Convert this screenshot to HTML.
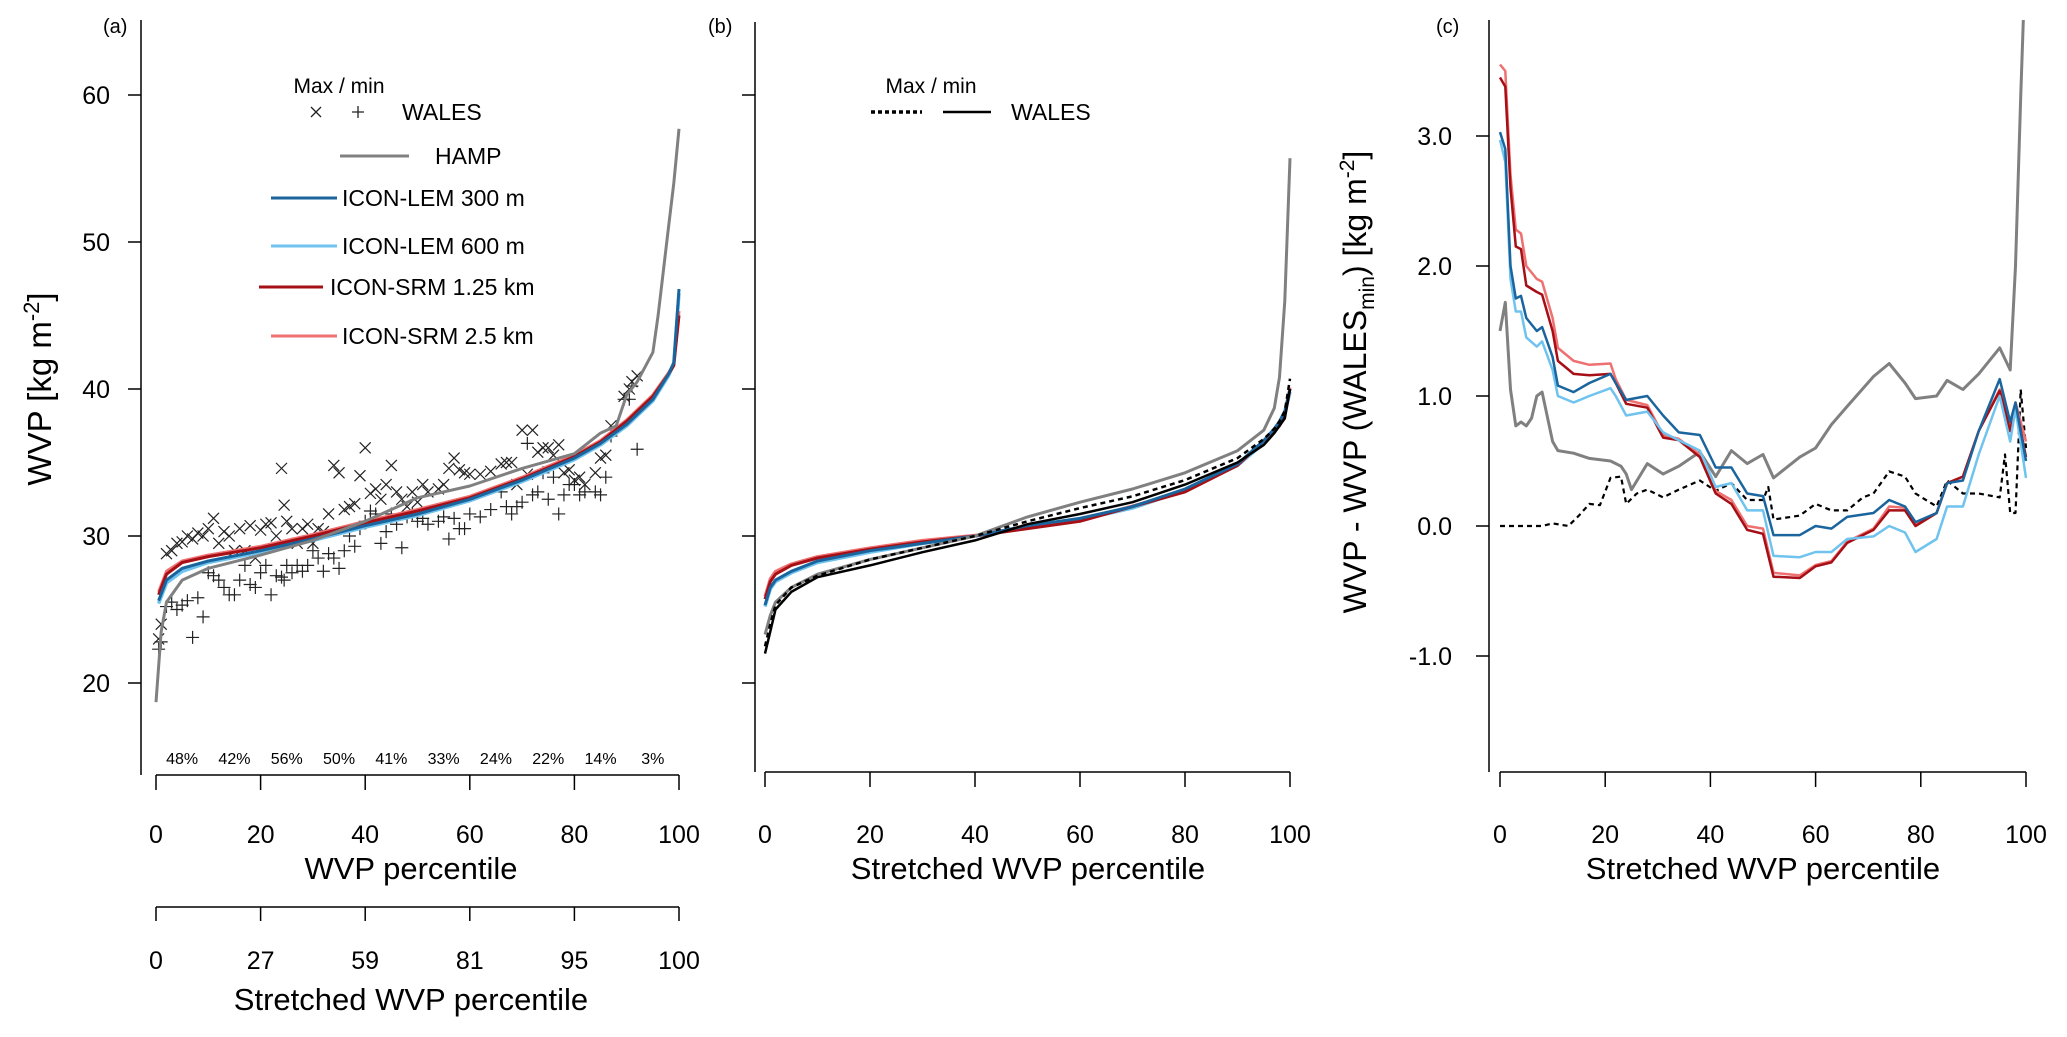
<!DOCTYPE html>
<html><head><meta charset="utf-8">
<style>
html,body{margin:0;padding:0;background:#fff;}
svg{display:block;font-family:"Liberation Sans",Arial,sans-serif;}
</style></head>
<body>
<svg id="chart" width="2067" height="1037" viewBox="0 0 2067 1037">
<defs>
<clipPath id="clipA"><rect x="141" y="15" width="560" height="760"/></clipPath>
<clipPath id="clipB"><rect x="754" y="15" width="560" height="760"/></clipPath>
<clipPath id="clipC"><rect x="1489" y="20" width="560" height="752"/></clipPath>
</defs>
<g id="root"></g>
</svg>
<script>
// ---------- Panel (a) data ----------
const A_P = [0.5,2,5,10,20,30,40,50,60,70,80,85,90,95,98,99,100];
const A_LEM300 = [25.6,27,27.8,28.3,29.0,29.8,30.7,31.5,32.5,33.8,35.3,36.3,37.6,39.3,41,41.8,46.8];
const A_LEM600 = [25.4,26.8,27.6,28.2,28.9,29.7,30.6,31.4,32.4,33.7,35.2,36.2,37.5,39.2,40.9,41.7,46.5];
const A_SRM125 = [26,27.4,28.2,28.6,29.2,30,30.9,31.7,32.6,33.9,35.4,36.4,37.8,39.5,41,41.6,45];
const A_SRM25 = [26.2,27.6,28.3,28.7,29.3,30.1,31.0,31.8,32.7,34.0,35.5,36.5,37.9,39.6,41.1,41.7,45.3];
const A_HAMP_P = [0,1,2,5,10,20,30,40,50,60,70,80,85,88,90,92,95,96,97,98,99,100];
const A_HAMP = [18.7,23.5,25.5,27,27.8,28.7,29.7,31,32.6,33.4,34.6,35.6,37,37.5,39.6,40.5,42.5,45,48,51,54,57.7];
const W_P = [0.5,1,2,3,4,5,6,7,8,9,10,11,12,13,14,15,16,17,18,19,20,21,22,23,24,24.5,25,26,27,28,29,30,31,32,33,34,35,36,37,38,39,40,41,42,43,44,45,46,47,48,49,50,51,52,54,55,56,57,58,59,60,62,64,66,67,68,69,70,71,72,73,74,75,76,77,78,79,80,81,82,84,85,86,87,89.5,90.5,91,92];
const W_MAX = [23,24,28.8,29,29.5,29.6,30,29.8,30.2,30,30.5,31.2,29.5,30.3,30,29,30.5,29,30.7,28.5,30.4,30.8,30.9,30,34.6,32.1,31,30.5,29.5,30.5,30.8,29.5,30.5,30.3,31.5,34.8,34.3,31.8,32,32.2,34.1,36,32.9,33.2,32.5,33.5,34.8,33,32.5,32,33,32.3,33.5,33,33.2,33.5,34.6,35.3,34.5,34.3,34.2,34.2,34.4,34.9,35,35,33.5,37.2,34.2,37.2,35.7,36,36,35.5,36.2,34.3,34.5,33.8,34,33.5,34.3,35.3,35.5,37.5,39.5,40,40.5,40.9];
const W_MIN = [22.3,22.8,25.2,25.5,25,25.3,25.6,23.1,25.8,24.5,27.5,27.3,27,26.5,26,26,27,28,26.7,26.5,27.5,28,26,27.3,27.2,27,28,27.5,28,27.6,28,29,28.5,27.6,28.8,28.5,27.8,29,30,29.3,30.5,31,31.7,31.5,29.5,30.3,31.5,30.8,29.2,31.3,31.5,31,31.2,30.8,31,31.3,29.8,31.2,30.5,30.5,31.5,31.3,31.8,33,32,31.5,32,32.3,36.3,32.8,33,34.3,32.5,34,31.5,32.8,33.5,33.5,32.8,33,33,32.8,34,36.8,39.3,39.3,40.2,35.9];
const A_XTICKS = [0,20,40,60,80,100];
const A_YTICKS = [20,30,40,50,60];
const A_PCT = ["48%","42%","56%","50%","41%","33%","24%","22%","14%","3%"];
const A_STRETCH = ["0","27","59","81","95","100"];
// ---------- Panel (b) data ----------
const B_P = [0,1,2,5,10,20,30,40,50,60,70,80,90,95,97,98,99,100];
const B_HAMP = [23.3,24.6,25.5,26.5,27.4,28.4,29.2,30,31.3,32.3,33.2,34.3,35.8,37.2,38.7,40.8,46,55.7];
const B_WMIN = [22,23.5,25,26.2,27.2,28,28.9,29.7,30.8,31.5,32.3,33.5,35,36.2,37,37.5,38,40];
const B_WMAX = [22.5,24,25.3,26.5,27.3,28.4,29.2,30,31,31.9,32.7,33.8,35.3,36.6,37.3,37.8,38.5,40.7];
const B_LEM300 = [25.3,26.5,27,27.6,28.3,29,29.5,30,30.7,31.2,32,33.2,34.9,36.5,37.3,37.8,38.5,40];
const B_LEM600 = [25.2,26.4,26.9,27.5,28.2,28.9,29.5,30,30.6,31.1,31.9,33.1,34.8,36.3,37.1,37.6,38.3,39.8];
const B_SRM125 = [25.7,26.9,27.4,28,28.5,29.1,29.6,30,30.5,31,32,33,34.8,36.5,37.1,37.5,38.2,40];
const B_SRM25 = [25.9,27.1,27.6,28.1,28.6,29.2,29.7,30.05,30.55,31.05,32.05,33.05,34.85,36.5,37.1,37.5,38.2,40.1];
// ---------- Panel (c) data ----------
const C_P = [0,1,2,3,4,5,7,8,10,11,14,17,21,22,24,28,31,34,38,41,44,47,50,52,57,60,63,66,71,74,77,79,83,85,88,91,95,97,98,100];
const C_SRM125 = [3.45,3.38,2.6,2.15,2.13,1.85,1.8,1.78,1.5,1.27,1.17,1.16,1.17,1.1,0.94,0.91,0.68,0.66,0.53,0.25,0.17,-0.03,-0.06,-0.39,-0.4,-0.31,-0.28,-0.13,-0.03,0.12,0.12,0,0.1,0.33,0.38,0.73,1.04,0.73,0.94,0.53];
const C_SRM25 = [3.55,3.5,2.7,2.28,2.25,2.0,1.9,1.88,1.6,1.37,1.27,1.24,1.25,1.13,0.97,0.93,0.7,0.67,0.55,0.27,0.2,0.0,-0.02,-0.36,-0.38,-0.3,-0.27,-0.12,-0.02,0.15,0.14,0.02,0.1,0.33,0.38,0.73,1.05,0.75,0.95,0.65];
const C_LEM300 = [3.03,2.9,2.0,1.75,1.77,1.6,1.5,1.53,1.3,1.08,1.03,1.1,1.17,1.1,0.97,1.0,0.85,0.72,0.7,0.45,0.45,0.25,0.23,-0.07,-0.07,0.0,-0.02,0.07,0.1,0.2,0.15,0.03,0.1,0.33,0.35,0.73,1.13,0.8,0.95,0.5];
const C_LEM600 = [2.97,2.8,1.9,1.65,1.65,1.45,1.38,1.42,1.2,1.0,0.95,1.0,1.06,1.0,0.85,0.88,0.72,0.66,0.58,0.3,0.33,0.12,0.12,-0.23,-0.24,-0.2,-0.2,-0.1,-0.08,0.0,-0.05,-0.2,-0.1,0.15,0.15,0.55,1.0,0.65,0.9,0.37];
const C_HAMP_P = [0,1,2,3,4,5,6,7,8,10,11,14,17,21,23,24,25,28,31,34,38,41,44,47,50,52,57,60,63,66,71,74,77,79,83,85,88,91,95,97,98,99,100];
const C_HAMP = [1.5,1.72,1.05,0.77,0.8,0.77,0.83,1.0,1.03,0.65,0.58,0.56,0.52,0.5,0.46,0.4,0.28,0.48,0.4,0.46,0.57,0.38,0.58,0.48,0.55,0.37,0.53,0.6,0.78,0.92,1.15,1.25,1.1,0.98,1.0,1.12,1.05,1.17,1.37,1.2,2.0,3.3,4.5];
const C_WMAX_P = [0,8,10,13,15,17,19,21,23,24,26,28,31,34,38,41,44,47,50,51,52,57,60,63,66,69,71,74,77,79,83,85,88,91,95,96,97,98,99,100];
const C_WMAX = [0,0,0.02,0,0.08,0.17,0.16,0.37,0.38,0.17,0.25,0.28,0.22,0.28,0.35,0.27,0.33,0.2,0.2,0.3,0.05,0.08,0.17,0.12,0.12,0.22,0.25,0.42,0.38,0.25,0.15,0.35,0.25,0.25,0.22,0.55,0.1,0.1,1.05,0.6];
const C_YTICKS = [-1.0,0.0,1.0,2.0,3.0];

const COL = {grey:"#808080",lem300:"#1a659e",lem600:"#6fc3ee",srm125:"#a50f15",srm25:"#ef7070"};
const NS = "http://www.w3.org/2000/svg";
const root = document.getElementById('root');
function mk(tag, attrs, parent){const e=document.createElementNS(NS,tag);for(const k in attrs)e.setAttribute(k,attrs[k]);(parent||root).appendChild(e);return e;}
function txt(s, attrs, parent){const t=mk('text',attrs,parent);t.textContent=s;return t;}

// axis functions
const axA = {x:p=>156+p*5.23, y:v=>683-(v-20)*14.7};
const axB = {x:p=>765+p*5.25, y:v=>683-(v-20)*14.7};
const axC = {x:p=>1500+p*5.26, y:v=>526-v*130};

function line(ax, P, V, color, w, name, clip, dash){
  const d = P.map((p,i)=>(i?'L':'M')+ax.x(p).toFixed(1)+','+ax.y(V[i]).toFixed(1)).join(' ');
  const e = mk('path',{d:d,fill:'none',stroke:color,'stroke-width':w,'stroke-linejoin':'round','clip-path':'url(#'+clip+')'});
  if(dash) e.setAttribute('stroke-dasharray',dash);
  
  
  return e;
}

// ---------- Panel (a) ----------
const gA = mk('g',{});


mk('line',{x1:141,y1:20,x2:141,y2:775,stroke:'#000','stroke-width':1.5},gA);
A_YTICKS.forEach(v=>{
  mk('line',{x1:128,y1:axA.y(v),x2:141,y2:axA.y(v),stroke:'#000','stroke-width':1.5},gA);
  const t=txt(String(v),{x:110,y:axA.y(v)+9,'font-size':25,'text-anchor':'end'},gA);
  
  
});
mk('line',{x1:156,y1:775,x2:679,y2:775,stroke:'#000','stroke-width':1.5},gA);
A_XTICKS.forEach(p=>{
  mk('line',{x1:axA.x(p),y1:775,x2:axA.x(p),y2:790,stroke:'#000','stroke-width':1.5},gA);
  const t=txt(String(p),{x:axA.x(p),y:843,'font-size':25,'text-anchor':'middle'},gA);
  
  
});
mk('line',{x1:156,y1:907,x2:679,y2:907,stroke:'#000','stroke-width':1.5},gA);
A_STRETCH.forEach((s,i)=>{
  const p=A_XTICKS[i];
  mk('line',{x1:axA.x(p),y1:907,x2:axA.x(p),y2:921,stroke:'#000','stroke-width':1.5},gA);
  const t=txt(s,{x:axA.x(p),y:969,'font-size':25,'text-anchor':'middle'},gA);
  
  
});
A_PCT.forEach((s,i)=>{
  const t=txt(s,{x:axA.x(i*10+5),y:764,'font-size':16,'text-anchor':'middle'},gA);
  
  
});
// scatter
W_P.forEach((p,i)=>{
  const x=axA.x(p), y1=axA.y(W_MAX[i]), y2=axA.y(W_MIN[i]), r=5.5;
  const m=mk('path',{d:`M${x-r},${y1-r}L${x+r},${y1+r}M${x-r},${y1+r}L${x+r},${y1-r}`,stroke:'#222','stroke-width':1.2,fill:'none'},gA);
  
  
  const n=mk('path',{d:`M${x-6.5},${y2}L${x+6.5},${y2}M${x},${y2-6.5}L${x},${y2+6.5}`,stroke:'#222','stroke-width':1.2,fill:'none'},gA);
  
  
});
line(axA,A_P,A_LEM600,COL.lem600,3.5,'lem600-line-a','clipA');
line(axA,A_P,A_SRM25,COL.srm25,3,'srm25-line-a','clipA');
line(axA,A_P,A_SRM125,COL.srm125,3,'srm125-line-a','clipA');
line(axA,A_P,A_LEM300,COL.lem300,3,'lem300-line-a','clipA');
line(axA,A_HAMP_P,A_HAMP,COL.grey,3,'hamp-line-a','clipA');
</script>
<script>
// ---------- Panel (b) ----------
const gB = mk('g',{});


mk('line',{x1:755,y1:22,x2:755,y2:772,stroke:'#000','stroke-width':1.5},gB);
A_YTICKS.forEach(v=>{mk('line',{x1:742,y1:axB.y(v),x2:755,y2:axB.y(v),stroke:'#000','stroke-width':1.5},gB);});
mk('line',{x1:765,y1:772,x2:1290,y2:772,stroke:'#000','stroke-width':1.5},gB);
A_XTICKS.forEach(p=>{
  mk('line',{x1:axB.x(p),y1:772,x2:axB.x(p),y2:787,stroke:'#000','stroke-width':1.5},gB);
  const t=txt(String(p),{x:axB.x(p),y:843,'font-size':25,'text-anchor':'middle'},gB);
  
  
});
line(axB,B_P,B_LEM600,COL.lem600,3.5,'lem600-line-b','clipB');
line(axB,B_P,B_SRM25,COL.srm25,3,'srm25-line-b','clipB');
line(axB,B_P,B_SRM125,COL.srm125,3,'srm125-line-b','clipB');
line(axB,B_P,B_LEM300,COL.lem300,3,'lem300-line-b','clipB');
line(axB,B_P,B_HAMP,COL.grey,3,'hamp-line-b','clipB');
line(axB,B_P,B_WMAX,'#000',2.5,'wales-max-line-b','clipB','5,4');
line(axB,B_P,B_WMIN,'#000',2.5,'wales-min-line-b','clipB');

// ---------- Panel (c) ----------
const gC = mk('g',{});


mk('line',{x1:1489,y1:20,x2:1489,y2:772,stroke:'#000','stroke-width':1.5},gC);
C_YTICKS.forEach(v=>{
  mk('line',{x1:1476,y1:axC.y(v),x2:1489,y2:axC.y(v),stroke:'#000','stroke-width':1.5},gC);
  const t=txt(v.toFixed(1),{x:1452,y:axC.y(v)+9,'font-size':25,'text-anchor':'end'},gC);
  
  
});
mk('line',{x1:1500,y1:772,x2:2026,y2:772,stroke:'#000','stroke-width':1.5},gC);
A_XTICKS.forEach(p=>{
  mk('line',{x1:axC.x(p),y1:772,x2:axC.x(p),y2:787,stroke:'#000','stroke-width':1.5},gC);
  const t=txt(String(p),{x:axC.x(p),y:843,'font-size':25,'text-anchor':'middle'},gC);
  
  
});
line(axC,C_HAMP_P,C_HAMP,COL.grey,3,'hamp-line-c','clipC');
line(axC,C_WMAX_P,C_WMAX,'#000',2.2,'wales-max-line-c','clipC','5,4');
line(axC,C_P,C_SRM25,COL.srm25,2.5,'srm25-line-c','clipC');
line(axC,C_P,C_SRM125,COL.srm125,2.5,'srm125-line-c','clipC');
line(axC,C_P,C_LEM600,COL.lem600,2.5,'lem600-line-c','clipC');
line(axC,C_P,C_LEM300,COL.lem300,2.5,'lem300-line-c','clipC');
</script>

<svg width="0" height="0" style="position:absolute"></svg>
<script>
// static labels & legends
const L = mk('g',{});


function lab(s,a,name){const t=txt(s,a,L);return t;}
lab('(a)',{x:103,y:33,'font-size':20},'panel-a-label');
lab('(b)',{x:708,y:33,'font-size':20},'panel-b-label');
lab('(c)',{x:1436,y:33,'font-size':20},'panel-c-label');
lab('WVP percentile',{x:411,y:879,'font-size':31,'text-anchor':'middle'},'x-axis-title-a');
lab('Stretched WVP percentile',{x:411,y:1010,'font-size':31,'text-anchor':'middle'},'stretched-axis-title-a');
lab('Stretched WVP percentile',{x:1028,y:879,'font-size':31,'text-anchor':'middle'},'x-axis-title-b');
lab('Stretched WVP percentile',{x:1763,y:879,'font-size':31,'text-anchor':'middle'},'x-axis-title-c');
const yA = txt('',{transform:'translate(51,389) rotate(-90)','font-size':33,'text-anchor':'middle'},L);


yA.innerHTML = 'WVP [kg m<tspan dy="-12" font-size="22">-2</tspan><tspan dy="12">]</tspan>';
const yC = txt('',{transform:'translate(1366,382) rotate(-90)','font-size':32,'text-anchor':'middle'},L);


yC.innerHTML = 'WVP - WVP (WALES<tspan dy="8" font-size="21">min</tspan><tspan dy="-8">) [kg m</tspan><tspan dy="-12" font-size="21">-2</tspan><tspan dy="12">]</tspan>';

// legend a
lab('Max / min',{x:339,y:93,'font-size':21,'text-anchor':'middle'},'legend-title-a');
L.appendChild(mk('path',{d:'M311,107L321,117M311,117L321,107',stroke:'#222','stroke-width':1.3,fill:'none'},L));
L.appendChild(mk('path',{d:'M352,112L364,112M358,106L358,118',stroke:'#222','stroke-width':1.3,fill:'none'},L));
lab('WALES',{x:402,y:120,'font-size':23},'legend-wales');
const legA = [[340,409,156,COL.grey,'HAMP',435],[271,337,198,COL.lem300,'ICON-LEM 300 m',342],[271,337,246,COL.lem600,'ICON-LEM 600 m',342],[259,323,287,COL.srm125,'ICON-SRM 1.25 km',330],[271,337,336,COL.srm25,'ICON-SRM 2.5 km',342]];
legA.forEach(r=>{
  const l=mk('line',{x1:r[0],y1:r[2],x2:r[1],y2:r[2],stroke:r[3],'stroke-width':3},L);
  
  
  lab(r[4],{x:r[5],y:r[2]+8,'font-size':23},'legend-entry');
});
// legend b
lab('Max / min',{x:931,y:93,'font-size':21,'text-anchor':'middle'},'legend-title-b');
const d1=mk('line',{x1:871,y1:112,x2:922,y2:112,stroke:'#000','stroke-width':3.5,'stroke-dasharray':'4,3'},L);


const d2=mk('line',{x1:943,y1:112,x2:991,y2:112,stroke:'#000','stroke-width':2.5},L);


lab('WALES',{x:1011,y:120,'font-size':23},'legend-wales-b');
</script>
</body></html>
